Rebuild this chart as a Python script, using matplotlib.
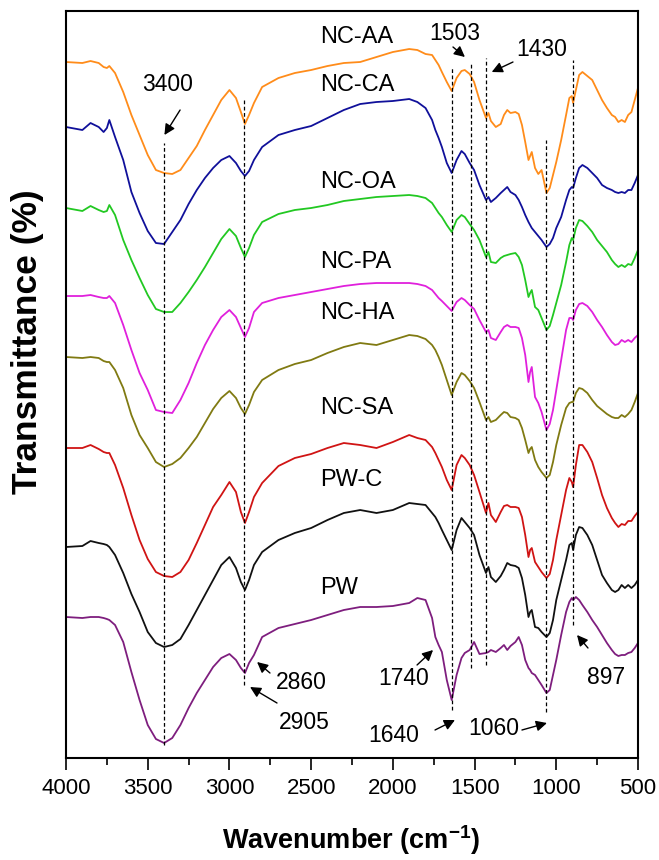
import matplotlib
matplotlib.use("Agg")
import matplotlib.pyplot as plt
from matplotlib.ticker import MultipleLocator

plt.rcParams['font.family'] = ['Liberation Sans', 'DejaVu Sans']
plt.rcParams['mathtext.fontset'] = 'custom'
plt.rcParams['mathtext.rm'] = 'Liberation Sans'
plt.rcParams['mathtext.bf'] = 'Liberation Sans:bold'

# wavenumber grid (cm-1)
wavenumber = [4000, 3900, 3850, 3800, 3770, 3750, 3735, 3700, 3650, 3600,
              3550, 3500, 3450, 3400, 3350, 3300, 3250, 3200, 3150, 3100,
              3050, 3000, 2960, 2930, 2905, 2880, 2850, 2800, 2700, 2600,
              2500, 2400, 2300, 2200, 2100, 2000, 1900, 1850, 1800, 1760,
              1740, 1720, 1700, 1670, 1640, 1610, 1580, 1560, 1530, 1503,
              1470, 1430, 1415, 1400, 1370, 1340, 1320, 1300, 1280, 1250,
              1230, 1210, 1190, 1170, 1160, 1150, 1130, 1110, 1090, 1060,
              1040, 1020, 1000, 970, 940, 920, 905, 897, 880, 860,
              840, 810, 780, 750, 720, 690, 660, 640, 620, 600,
              580, 560, 540, 520, 500]

# stacked transmittance traces (a.u., offsets included)
nc_aa = [698, 697, 699, 697, 693, 692, 694, 687, 668, 645,
         625, 605, 590, 587, 586, 590, 602, 614, 630, 645,
         660, 670, 662, 648, 636, 645, 657, 673, 682, 687,
         690, 694, 697, 698, 703, 708, 711, 710, 706, 705,
         700, 695, 688, 678, 669, 682, 689, 690, 686, 678,
         660, 642, 647, 639, 633, 636, 645, 650, 647, 648,
         646, 635, 618, 600, 604, 608, 592, 586, 590, 567,
         572, 585, 598, 620, 645, 662, 664, 657, 670, 685,
         688, 684, 680, 670, 660, 652, 645, 643, 638, 640,
         638, 645, 648, 660, 672]

nc_ca = [633, 630, 637, 633, 628, 632, 640, 623, 600, 568,
         547, 529, 517, 516, 528, 540, 556, 570, 582, 592,
         600, 604, 597, 589, 584, 589, 600, 613, 625, 630,
         634, 642, 650, 656, 658, 659, 661, 658, 652, 640,
         630, 622, 613, 597, 587, 600, 609, 606, 597, 590,
         575, 560, 563, 558, 562, 567, 570, 573, 568, 565,
         560, 553, 545, 538, 535, 532, 528, 524, 520, 513,
         516, 522, 532, 543, 560, 570, 573, 572, 582, 592,
         595, 592, 587, 582, 575, 572, 570, 568, 567, 568,
         567, 570, 570, 577, 585]

nc_oa = [552, 549, 554, 550, 548, 549, 555, 545, 520, 500,
         482, 465, 451, 448, 448, 457, 468, 480, 493, 507,
         521, 531, 524, 512, 503, 512, 525, 538, 546, 550,
         552, 555, 559, 561, 563, 564, 565, 564, 562, 557,
         552, 547, 543, 535, 528, 540, 545, 543, 536, 530,
         520, 503, 508, 498, 497, 502, 504, 505, 506, 507,
         503, 495, 480, 463, 467, 470, 453, 450, 442, 430,
         434, 445, 457, 475, 498, 515, 522, 520, 532, 540,
         539, 534, 528, 520, 514, 508, 500, 496, 493, 495,
         493, 496, 495, 502, 510]

nc_pa = [464, 464, 465, 463, 462, 462, 464, 457, 435, 410,
         387, 370, 350, 348, 347, 360, 377, 397, 415, 430,
         443, 450, 443, 432, 423, 432, 448, 457, 462, 465,
         468, 471, 474, 476, 477, 477, 477, 476, 474, 470,
         466, 462, 459, 454, 449, 458, 462, 460, 455, 451,
         440, 428, 430, 422, 420, 428, 433, 435, 433, 433,
         432, 422, 405, 378, 388, 393, 363, 357, 348, 330,
         336, 350, 370, 400, 430, 442, 442, 440, 450, 456,
         457, 454, 448, 440, 433, 425, 418, 415, 416, 420,
         418, 420, 418, 422, 425]

nc_ha = [403, 402, 403, 402, 399, 398, 398, 390, 372, 345,
         325, 312, 298, 293, 296, 302, 312, 323, 337, 351,
         362, 369, 362, 352, 346, 355, 368, 380, 390, 396,
         400, 407, 413, 417, 415, 420, 425, 424, 421, 415,
         410, 403, 395, 380, 365, 378, 387, 385, 379, 372,
         358, 340, 343, 338, 340, 345, 348, 347, 343, 342,
         340, 332, 320, 307, 311, 313, 300, 293, 288, 282,
         285, 298, 315, 335, 352, 357, 358, 358, 367, 372,
         371, 367, 360, 354, 350, 346, 343, 342, 342, 345,
         343, 346, 350, 358, 367]

nc_sa = [312, 312, 315, 311, 308, 307, 307, 295, 272, 245,
         220, 201, 188, 184, 183, 188, 200, 217, 235, 253,
         265, 278, 268, 248, 237, 248, 263, 277, 294, 302,
         306, 312, 317, 315, 312, 318, 325, 322, 320, 313,
         307, 300, 293, 280, 270, 295, 305, 302, 295, 285,
         268, 247, 257, 245, 238, 248, 254, 255, 253, 253,
         252, 243, 225, 203, 210, 212, 198, 193, 188, 182,
         186, 200, 220, 245, 270, 282, 278, 273, 295, 315,
         315, 308, 298, 282, 265, 252, 242, 237, 233, 236,
         235, 239, 239, 244, 248]

pw_c = [213, 214, 219, 217, 216, 215, 213, 205, 187, 166,
        148, 128, 117, 113, 115, 121, 135, 150, 165, 180,
        195, 203, 192, 178, 170, 180, 195, 208, 220, 227,
        232, 240, 247, 250, 247, 250, 257, 256, 255, 247,
        243, 237, 230, 220, 210, 230, 242, 238, 232, 225,
        205, 187, 193, 183, 178, 184, 190, 197, 195, 194,
        192, 182, 165, 143, 148, 150, 133, 132, 128, 123,
        127, 140, 160, 180, 200, 215, 217, 210, 225, 233,
        232, 225, 215, 200, 185, 177, 170, 168, 170, 175,
        172, 175, 172, 175, 180]

pw = [143, 142, 143, 143, 142, 141, 140, 135, 118, 88,
      60, 35, 21, 17, 22, 35, 52, 67, 80, 93,
      102, 106, 100, 92, 87, 97, 105, 123, 132, 136,
      140, 145, 150, 153, 153, 154, 157, 162, 160, 142,
      123, 115, 108, 80, 60, 85, 102, 107, 110, 118,
      106, 107, 108, 110, 108, 112, 115, 110, 114, 118,
      123, 115, 100, 92, 90, 87, 85, 80, 75, 67,
      70, 85, 100, 125, 148, 158, 162, 160, 163, 160,
      155, 148, 140, 133, 125, 117, 110, 106, 104, 105,
      105, 107, 108, 112, 117]

series = [nc_aa, nc_ca, nc_oa, nc_pa, nc_ha, nc_sa, pw_c, pw]
names = ['NC-AA', 'NC-CA', 'NC-OA', 'NC-PA', 'NC-HA', 'NC-SA', 'PW-C', 'PW']
colors = ['#FF8C1A', '#10109A', '#22C822', '#E020DC', '#807A12', '#D01414', '#111111', '#7E1E7E']
label_y = [723, 675, 578, 498, 447, 352, 280, 172]

# marked bands: wavenumber, top and bottom of the guide line
band_pos = [3400, 2909, 1640, 1520, 1433, 1063, 900]
band_top = [617, 662, 693, 698, 702, 620, 700]
band_bot = [15, 75, 50, 92, 95, 48, 135]

# peak annotations: text, text position, arrow tail, arrow head
notes = [
    ('3400', (3379, 676), (3302, 650), (3398, 625)),
    ('1503', (1623, 727), (1632, 713), (1559, 703)),
    ('1430', (1090, 711), (1265, 698), (1395, 688)),
    ('2860', (2562, 78), (2752, 87), (2831, 98)),
    ('2905', (2544, 38), (2709, 57), (2874, 73)),
    ('1740', (1932, 82), (1852, 95), (1754, 110)),
    ('1640', (1993, 25), (1742, 30), (1620, 40)),
    ('1060', (1381, 32), (1210, 30), (1057, 37)),
    ('897', (696, 83), (806, 112), (873, 125)),
]

fig = plt.figure(figsize=(6.59, 8.60), dpi=100)
ax = fig.add_axes([0.1002, 0.1186, 0.8679, 0.8686])

for y, c in zip(series, colors):
    ax.plot(wavenumber, y, color=c, lw=1.3)

for name, ly in zip(names, label_y):
    ax.text(2445, ly, name, fontsize=17, ha='left', va='center')

for x, t, b in zip(band_pos, band_top, band_bot):
    ax.plot([x, x], [b, t], color='k', lw=0.9, ls=(0, (3, 2)))

for txt, pos, tail, head in notes:
    ax.text(pos[0], pos[1], txt, fontsize=16.5, ha='center', va='center')
    ax.annotate('', xy=head, xytext=tail,
                arrowprops=dict(arrowstyle='-|>', color='k', lw=1.0,
                                mutation_scale=16, shrinkA=0, shrinkB=0))

ax.set_xlim(4000, 500)
ax.set_ylim(2, 749)
ax.xaxis.set_major_locator(MultipleLocator(500))
ax.xaxis.set_minor_locator(MultipleLocator(250))
ax.tick_params(axis='x', which='major', direction='out', length=8.5, width=1.2,
               labelsize=16, pad=6)
ax.tick_params(axis='x', which='minor', direction='out', length=5, width=1.2)
ax.set_yticks([])
for s in ax.spines.values():
    s.set_linewidth(1.5)

fig.text(0.5334, 0.0128, r'Wavenumber (cm$^{\mathbf{-1}}$)', fontsize=19.5,
         fontweight='bold', ha='center', va='baseline')
fig.text(0.041, 0.603, 'Transmittance (%)', fontsize=25.5, fontweight='bold',
         ha='center', va='center', rotation=90)

fig.savefig('out.png', dpi=100)
